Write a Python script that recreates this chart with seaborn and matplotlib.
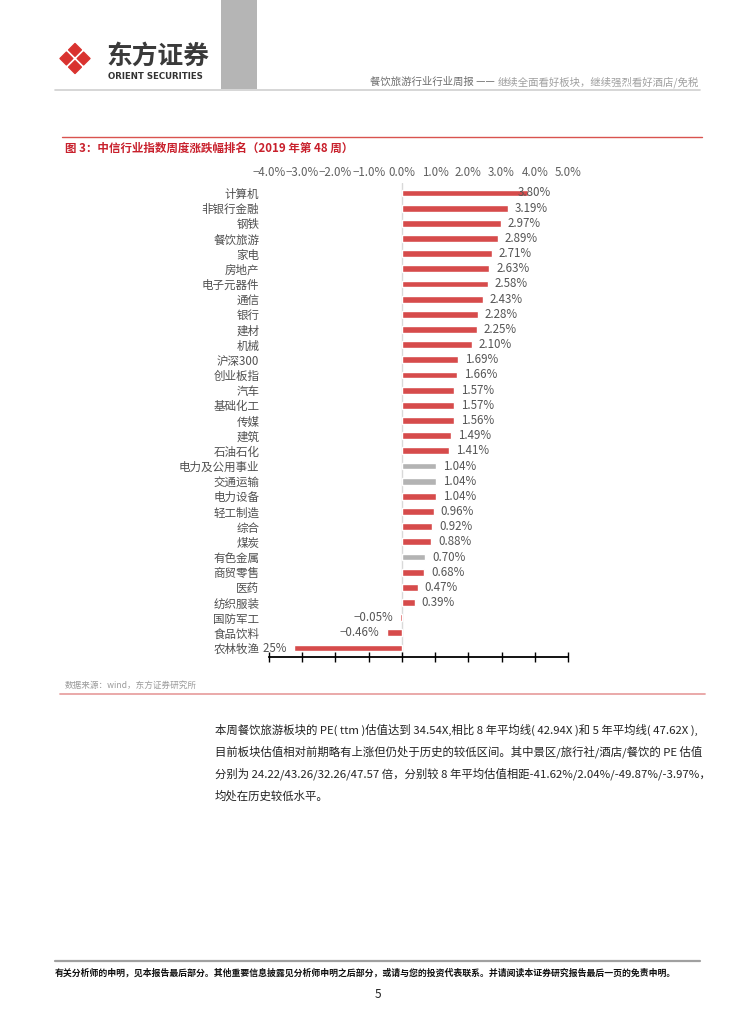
import numpy as np
import pandas as pd
import matplotlib
matplotlib.use('Agg')
import matplotlib.pyplot as plt
from matplotlib.patches import Polygon, Rectangle
from matplotlib.transforms import Bbox, TransformedBbox
import seaborn as sns

# chart data
industries = ['计算机', '非银行金融', '钢铁', '餐饮旅游', '家电', '房地产', '电子元器件', '通信',
              '银行', '建材', '机械', '沪深300', '创业板指', '汽车', '基础化工', '传媒', '建筑',
              '石油石化', '电力及公用事业', '交通运输', '电力设备', '轻工制造', '综合', '煤炭',
              '有色金属', '商贸零售', '医药', '纺织服装', '国防军工', '食品饮料', '农林牧渔']
weekly_change = [3.80, 3.19, 2.97, 2.89, 2.71, 2.63, 2.58, 2.43, 2.28, 2.25, 2.10, 1.69, 1.66,
                 1.57, 1.57, 1.56, 1.49, 1.41, 1.04, 1.04, 1.04, 0.96, 0.92, 0.88, 0.70, 0.68,
                 0.47, 0.39, -0.05, -0.46, -3.25]
grey_rows = ['电力及公用事业', '交通运输', '有色金属']
x_ticks = [-4, -3, -2, -1, 0, 1, 2, 3, 4, 5]

header_left = '餐饮旅游行业行业周报 —— '
header_right = '继续全面看好板块，继续强烈看好酒店/免税'
chart_title = '图 3：中信行业指数周度涨跌幅排名（2019 年第 48 周）'
source_note = '数据来源：wind，东方证券研究所'
body_lines = [
    '本周餐饮旅游板块的 PE( ttm )估值达到 34.54X,相比 8 年平均线( 42.94X )和 5 年平均线( 47.62X ),',
    '目前板块估值相对前期略有上涨但仍处于历史的较低区间。其中景区/旅行社/酒店/餐饮的 PE 估值',
    '分别为 24.22/43.26/32.26/47.57 倍，分别较 8 年平均估值相距-41.62%/2.04%/-49.87%/-3.97%，',
    '均处在历史较低水平。',
]
disclaimer = '有关分析师的申明，见本报告最后部分。其他重要信息披露见分析师申明之后部分，或请与您的投资代表联系。并请阅读本证券研究报告最后一页的免责申明。'

sns.set_theme(style='white')
plt.rcParams['font.family'] = ['Noto Sans CJK SC', 'DejaVu Sans']

W, H = 754, 1024
fig = plt.figure(figsize=(W / 100, H / 100), dpi=100)

# page layer in pixel coords
page = fig.add_axes([0, 0, 1, 1])
page.set_xlim(0, W)
page.set_ylim(H, 0)
page.axis('off')

# logo: four rounded diamonds split by a white X
red = '#d9322f'
cx, cy = 75, 58.5
for dx, dy in [(0, -8.6), (0, 8.6), (-8.6, 0), (8.6, 0)]:
    x0, y0 = cx + dx, cy + dy
    r = 6.4
    page.add_patch(Polygon([(x0, y0 - r), (x0 + r, y0), (x0, y0 + r), (x0 - r, y0)], closed=True,
                           fc=red, ec=red, lw=1.0, joinstyle='round'))
page.text(106, 56, '东方证券', fontsize=18.5, fontweight='bold', color='#3a3a3a', va='center', ha='left')
page.text(108, 76.5, 'ORIENT SECURITIES', fontsize=6.2, fontweight='bold', color='#333333',
          va='center', ha='left', family='DejaVu Sans')
page.add_patch(Rectangle((221, 0), 36, 89, fc='#b5b5b5', ec='none'))

# header title
hr = page.text(699, 82, header_right, fontsize=7.5, color='#a0a0a0', ha='right', va='center')
page.annotate(header_left, xy=(0, 0.5), xycoords=hr, fontsize=7.5, color='#707070', ha='right', va='center')
page.plot([55, 700], [89.5, 89.5], color='#cfcfcf', lw=1.2)

# chart title
page.plot([62, 702], [137, 137], color='#d9534f', lw=1)
page.text(65, 148, chart_title, fontsize=8.3, fontweight='bold', color='#c8202c', va='center', ha='left')

# the bar chart
fs = 8.3
ax = fig.add_axes([269 / W, 1 - 657 / H, 299 / W, 474 / H])
df = pd.DataFrame({'industry': industries, 'change': weekly_change})
palette = {n: ('#b3b3b3' if n in grey_rows else '#d64b4b') for n in industries}
sns.barplot(data=df, x='change', y='industry', hue='industry', palette=palette, width=0.45,
            saturation=1, legend=False, ax=ax, zorder=0.5)
step = 15.17
ax.set_xlim(-4, 5)
ax.set_ylim(len(industries) - 1 + 9 / step, -10 / step)
ax.axvline(0, color='#d9d9d9', lw=1, zorder=0.4)
for s in ['top', 'right', 'left']:
    ax.spines[s].set_visible(False)
ax.spines['bottom'].set_color('black')
ax.spines['bottom'].set_linewidth(1.3)
ax.set_xticks(x_ticks)
ax.tick_params(axis='x', bottom=True, direction='inout', length=7, width=1, color='black',
               labelbottom=False)
ax.tick_params(axis='y', left=False, length=0, pad=7, labelsize=fs, labelcolor='#505050')
ax.set_xlabel('')
ax.set_ylabel('')

sec = ax.secondary_xaxis('top')
sec.set_xticks(x_ticks)
sec.set_xticklabels([f'{t:.1f}%'.replace('-', '−') for t in x_ticks])
sec.tick_params(length=0, pad=3, labelsize=fs, labelcolor='#606060')
sec.spines['top'].set_visible(False)

# value labels; the -3.25% one runs under the category names as in the original
clip_box = TransformedBbox(Bbox([[-4.2, -2], [5.5, 33]]), ax.transData)
for i, v in enumerate(weekly_change):
    if v >= 0:
        t = ax.text(min(v + 0.21, 3.5), i, f'{v:.2f}%', ha='left', va='center', fontsize=fs,
                    color='#555555', zorder=1)
    else:
        t = ax.text(v - 0.22, i, f'−{abs(v):.2f}%', ha='right', va='center', fontsize=fs,
                    color='#555555', zorder=1)
    t.set_clip_box(clip_box)
    t.set_clip_on(True)

# source and separator
page.text(65, 685, source_note, fontsize=6.2, color='#9a9a9a', va='center', ha='left')
page.plot([60, 705], [694, 694], color='#e8a2a2', lw=1.3)

# body text
for k, line in enumerate(body_lines):
    page.text(215, 730 + k * 22, line, fontsize=8.2, color='#222222', va='center', ha='left')

# footer
page.plot([55, 700], [961, 961], color='#a0a0a0', lw=1.6)
page.text(55, 973, disclaimer, fontsize=6.4, fontweight='bold', color='#111111', va='center', ha='left')
page.text(378, 994, '5', fontsize=8.5, color='#222222', va='center', ha='center')

fig.savefig('out.png', dpi=100, facecolor='white')
